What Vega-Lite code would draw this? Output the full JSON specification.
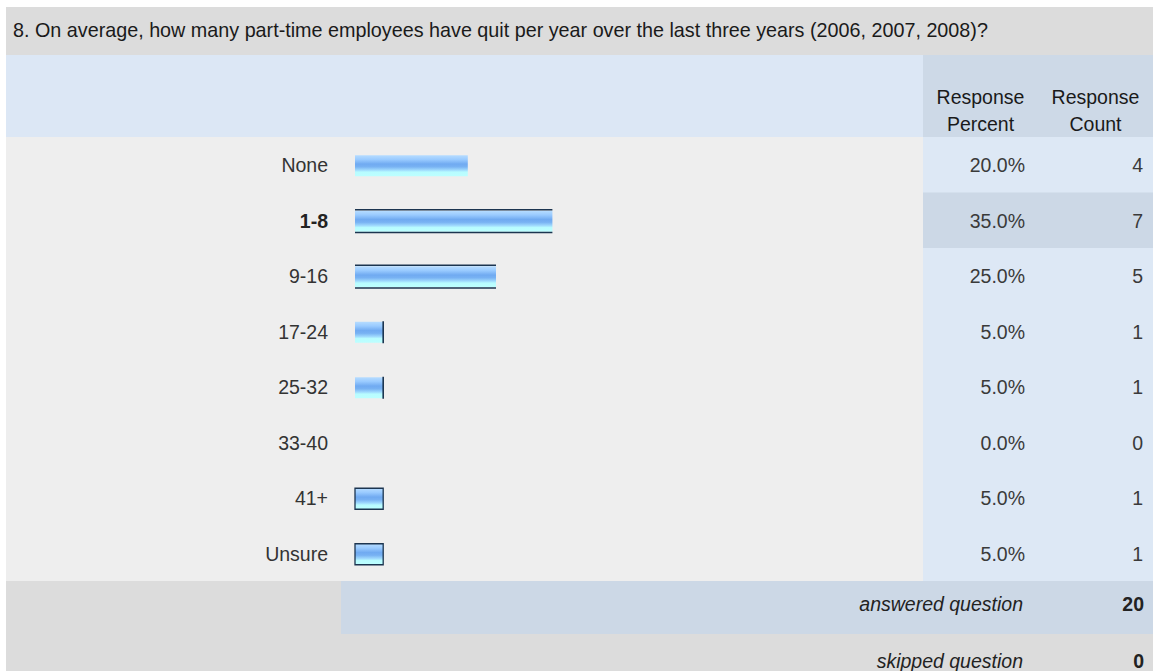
{
  "$schema": "https://vega.github.io/schema/vega-lite/v6.json",
  "padding": {"left": 6, "top": 7, "right": 0, "bottom": 0},
  "background": "white",
  "spacing": 0,
  "config": {
    "view": {"stroke": null},
    "font": "Liberation Sans",
    "text": {"font": "Liberation Sans", "fontSize": 19.5},
    "concat": {"spacing": 0}
  },
  "datasets": {
    "question": [{"q": "8. On average, how many part-time employees have quit per year over the last three years (2006, 2007, 2008)?"}],
    "columns": [{"col": "Response Percent"}, {"col": "Response Count"}],
    "answers": [
      {"answer": "None", "pct": 0.20, "count": 4},
      {"answer": "1-8", "pct": 0.35, "count": 7},
      {"answer": "9-16", "pct": 0.25, "count": 5},
      {"answer": "17-24", "pct": 0.05, "count": 1},
      {"answer": "25-32", "pct": 0.05, "count": 1},
      {"answer": "33-40", "pct": 0.0, "count": 0},
      {"answer": "41+", "pct": 0.05, "count": 1},
      {"answer": "Unsure", "pct": 0.05, "count": 1}
    ],
    "summary": [
      {"item": "answered question", "count": 20},
      {"item": "skipped question", "count": 0}
    ]
  },
  "vconcat": [
    {
      "width": 1147, "height": 48,
      "view": {"fill": "#dcdcdc", "stroke": null},
      "data": {"name": "question"},
      "mark": {"type": "text", "align": "left", "baseline": "middle", "dx": 7, "fontSize": 19.75, "color": "#1a1a1a"},
      "encoding": {"x": {"value": 0}, "text": {"field": "q"}}
    },
    {
      "spacing": 0, "bounds": "flush",
      "hconcat": [
        {
          "width": 917, "height": 82,
          "view": {"fill": "#dce7f5", "stroke": null},
          "data": {"name": "question"},
          "mark": {"type": "rect", "color": "#dce7f5"},
          "encoding": {}
        },
        {
          "width": 230, "height": 82,
          "view": {"fill": "#cdd9e7", "stroke": null},
          "data": {"name": "columns"},
          "mark": {"type": "text", "lineBreak": " ", "lineHeight": 27, "baseline": "middle", "dy": 2, "color": "#1a1a1a"},
          "encoding": {
            "x": {"field": "col", "type": "nominal", "sort": null, "axis": null,
                  "scale": {"type": "point", "padding": 0.5, "domain": ["Response Percent", "Response Count"]}},
            "text": {"field": "col"}
          }
        }
      ]
    },
    {
      "spacing": 0, "bounds": "flush",
      "hconcat": [
        {
          "width": 917, "height": 444,
          "view": {"fill": "#eeeeee", "stroke": null},
          "data": {"name": "answers"},
          "encoding": {
            "y": {"field": "answer", "type": "nominal", "axis": null,
                  "scale": {"domain": ["None", "1-8", "9-16", "17-24", "25-32", "33-40", "41+", "Unsure"], "paddingInner": 0, "paddingOuter": 0}}
          },
          "layer": [
            {
              "mark": {
                "type": "bar", "size": 21, "yOffset": 1, "strokeWidth": 1.3,
                "fill": {
                  "gradient": "linear", "x1": 0, "y1": 0, "x2": 0, "y2": 1,
                  "stops": [
                    {"offset": 0, "color": "#b6dcff"},
                    {"offset": 0.2, "color": "#9acbff"},
                    {"offset": 0.42, "color": "#70aaf1"},
                    {"offset": 0.55, "color": "#78b2f3"},
                    {"offset": 0.7, "color": "#9ed8fd"},
                    {"offset": 0.8, "color": "#b8fcff"},
                    {"offset": 1, "color": "#bcffff"}
                  ]
                }
              },
              "encoding": {
                "x": {"field": "pct", "type": "quantitative", "axis": null, "scale": {"domain": [-0.6188, 1.0071], "nice": false, "zero": false}},
                "stroke": {"condition": {"test": "datum.answer === '41+' || datum.answer === 'Unsure'", "value": "#1c3550"}, "value": "transparent"}
              }
            },
            {
              "transform": [{"filter": "datum.answer === '1-8' || datum.answer === '9-16'"}],
              "mark": {"type": "rule", "yOffset": -10.5, "color": "#1c3550", "strokeWidth": 1.6},
              "encoding": {"x": {"field": "pct", "type": "quantitative"}, "x2": {"datum": 0}}
            },
            {
              "transform": [{"filter": "datum.answer === '1-8' || datum.answer === '9-16'"}],
              "mark": {"type": "rule", "yOffset": 12.2, "color": "#1c3550", "strokeWidth": 1.6},
              "encoding": {"x": {"field": "pct", "type": "quantitative"}, "x2": {"datum": 0}}
            },
            {
              "transform": [{"filter": "datum.answer === '17-24' || datum.answer === '25-32'"}],
              "mark": {"type": "tick", "orient": "vertical", "size": 22, "thickness": 1.6, "yOffset": 1, "color": "#1c3550", "opacity": 1},
              "encoding": {"x": {"field": "pct", "type": "quantitative"}}
            },
            {
              "transform": [{"filter": "datum.answer !== '1-8'"}],
              "mark": {"type": "text", "align": "right", "baseline": "middle", "dx": -27, "dy": 1.5, "color": "#333333"},
              "encoding": {"x": {"datum": 0, "type": "quantitative"}, "text": {"field": "answer"}}
            },
            {
              "transform": [{"filter": "datum.answer === '1-8'"}],
              "mark": {"type": "text", "align": "right", "baseline": "middle", "dx": -27, "dy": 1.5, "color": "#222222", "fontWeight": "bold"},
              "encoding": {"x": {"datum": 0, "type": "quantitative"}, "text": {"field": "answer"}}
            }
          ]
        },
        {
          "width": 230, "height": 444,
          "view": {"fill": "#dde8f5", "stroke": null},
          "data": {"name": "answers"},
          "encoding": {
            "y": {"field": "answer", "type": "nominal", "axis": null,
                  "scale": {"domain": ["None", "1-8", "9-16", "17-24", "25-32", "33-40", "41+", "Unsure"], "paddingInner": 0, "paddingOuter": 0}}
          },
          "layer": [
            {
              "transform": [{"filter": "datum.answer === '1-8'"}],
              "mark": {"type": "rect", "color": "#ccd8e6"}
            },
            {
              "mark": {"type": "text", "align": "right", "baseline": "middle", "dx": 44.5, "dy": 1.5, "color": "#3a3a3a"},
              "encoding": {
                "x": {"datum": "Response Percent", "type": "nominal", "axis": null,
                      "scale": {"type": "point", "padding": 0.5, "domain": ["Response Percent", "Response Count"]}},
                "text": {"field": "pct", "type": "quantitative", "format": ".1%"}
              }
            },
            {
              "mark": {"type": "text", "align": "right", "baseline": "middle", "dx": 47.5, "dy": 1.5, "color": "#3a3a3a"},
              "encoding": {
                "x": {"datum": "Response Count", "type": "nominal"},
                "text": {"field": "count", "type": "quantitative"}
              }
            }
          ]
        }
      ]
    },
    {
      "spacing": 0, "bounds": "flush",
      "hconcat": [
        {
          "width": 335, "height": 53,
          "view": {"fill": "#dcdcdc", "stroke": null},
          "data": {"name": "summary"},
          "transform": [{"filter": "datum.item === 'answered question'"}],
          "mark": {"type": "rect", "color": "#dcdcdc"},
          "encoding": {}
        },
        {
          "width": 582, "height": 53,
          "view": {"fill": "#ccd8e6", "stroke": null},
          "data": {"name": "summary"},
          "transform": [{"filter": "datum.item === 'answered question'"}],
          "mark": {"type": "rect", "color": "#ccd8e6"},
          "encoding": {}
        },
        {
          "width": 230, "height": 53,
          "view": {"fill": "#ccd8e6", "stroke": null},
          "data": {"name": "summary"},
          "transform": [{"filter": "datum.item === 'answered question'"}],
          "layer": [
            {
              "mark": {"type": "text", "align": "right", "baseline": "middle", "dx": 42.5, "dy": -3, "fontStyle": "italic", "color": "#222222"},
              "encoding": {
                "x": {"datum": "Response Percent", "type": "nominal", "axis": null,
                      "scale": {"type": "point", "padding": 0.5, "domain": ["Response Percent", "Response Count"]}},
                "text": {"field": "item"}
              }
            },
            {
              "mark": {"type": "text", "align": "right", "baseline": "middle", "dx": 48.5, "dy": -3, "fontWeight": "bold", "color": "#222222"},
              "encoding": {"x": {"datum": "Response Count", "type": "nominal"}, "text": {"field": "count", "type": "quantitative"}}
            }
          ]
        }
      ]
    },
    {
      "spacing": 0, "bounds": "flush",
      "hconcat": [
        {
          "width": 917, "height": 37,
          "view": {"fill": "#dcdcdc", "stroke": null},
          "data": {"name": "summary"},
          "transform": [{"filter": "datum.item === 'skipped question'"}],
          "mark": {"type": "rect", "color": "#dcdcdc"},
          "encoding": {}
        },
        {
          "width": 230, "height": 37,
          "view": {"fill": "#dcdcdc", "stroke": null},
          "data": {"name": "summary"},
          "transform": [{"filter": "datum.item === 'skipped question'"}],
          "layer": [
            {
              "mark": {"type": "text", "align": "right", "baseline": "middle", "dx": 42.5, "dy": 9, "fontStyle": "italic", "color": "#222222"},
              "encoding": {
                "x": {"datum": "Response Percent", "type": "nominal", "axis": null,
                      "scale": {"type": "point", "padding": 0.5, "domain": ["Response Percent", "Response Count"]}},
                "text": {"field": "item"}
              }
            },
            {
              "mark": {"type": "text", "align": "right", "baseline": "middle", "dx": 48.5, "dy": 9, "fontWeight": "bold", "color": "#222222"},
              "encoding": {"x": {"datum": "Response Count", "type": "nominal"}, "text": {"field": "count", "type": "quantitative"}}
            }
          ]
        }
      ]
    }
  ]
}
